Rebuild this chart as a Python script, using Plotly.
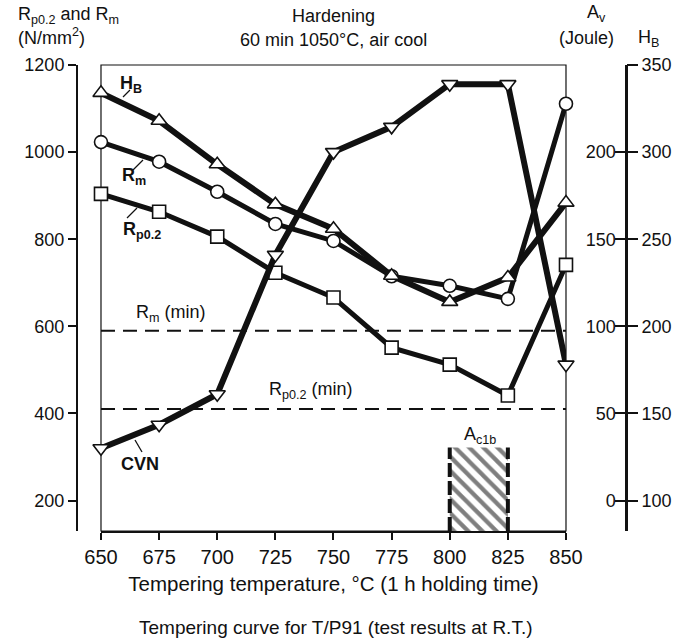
import plotly.graph_objects as go

# Tempering temperatures (°C)
temp = [650, 675, 700, 725, 750, 775, 800, 825, 850]

# Tensile strength Rm and yield strength Rp0.2 (N/mm²)
rm = [1023, 978, 909, 835, 796, 715, 693, 663, 1111]
rp02 = [904, 863, 806, 723, 666, 551, 512, 441, 741]

# Brinell hardness HB
hb = [334, 318, 293, 270, 256, 229, 214, 228, 271]

# Charpy impact energy Av (Joule)
cvn = [30, 43.5, 61, 141, 200, 214.5, 239, 239, 78]

# Minimum requirements (N/mm²)
rm_min = 590
rp02_min = 410

# Ac1b transformation band (°C) and its drawn height (N/mm² scale)
ac1b_band = [800, 825]
ac1b_top = 322

# Axis ticks
x_ticks = [650, 675, 700, 725, 750, 775, 800, 825, 850]
left_ticks = [200, 400, 600, 800, 1000, 1200]
av_ticks = [0, 50, 100, 150, 200, 250]
hb_ticks = [100, 150, 200, 250, 300, 350]

left_range = [130, 1200]
av_range = [-17.5, 250]
hb_range = [82.5, 350]

FONT = "Liberation Sans"
BLACK = "#111111"

fig = go.Figure()

marker_line = dict(color=BLACK, width=1.6)

# Ac1b hatched band
band_y_bottom = left_range[0]
fig.add_trace(go.Scatter(
    x=[ac1b_band[0], ac1b_band[0], ac1b_band[1], ac1b_band[1], ac1b_band[0]],
    y=[band_y_bottom, ac1b_top, ac1b_top, band_y_bottom, band_y_bottom],
    fill="toself", mode="lines", line=dict(width=0),
    fillcolor="white",
    fillpattern=dict(shape="\\", fgcolor="#000000", bgcolor="white", size=10, solidity=0.42),
    hoverinfo="skip", showlegend=False, yaxis="y",
))
for xb in ac1b_band:
    fig.add_trace(go.Scatter(
        x=[xb, xb], y=[band_y_bottom, ac1b_top], mode="lines",
        line=dict(color=BLACK, width=4, dash="14px,4px"),
        hoverinfo="skip", showlegend=False, yaxis="y",
    ))

# Minimum strength lines
for v in (rm_min, rp02_min):
    fig.add_trace(go.Scatter(
        x=[temp[0], temp[-1]], y=[v, v], mode="lines",
        line=dict(color=BLACK, width=2, dash="14px,8px"),
        hoverinfo="skip", showlegend=False, yaxis="y",
    ))

# Charpy impact energy (right, Av axis)
fig.add_trace(go.Scatter(
    x=temp, y=cvn, mode="lines+markers", name="CVN", yaxis="y2",
    line=dict(color=BLACK, width=6), cliponaxis=False,
    marker=dict(symbol="triangle-down", size=14, color="white", line=marker_line),
    showlegend=False,
))

# Hardness (right, HB axis)
fig.add_trace(go.Scatter(
    x=temp, y=hb, mode="lines+markers", name="HB", yaxis="y3",
    line=dict(color=BLACK, width=6), cliponaxis=False,
    marker=dict(symbol="triangle-up", size=14, color="white", line=marker_line),
    showlegend=False,
))

# Tensile and yield strength (left axis)
fig.add_trace(go.Scatter(
    x=temp, y=rm, mode="lines+markers", name="Rm", yaxis="y",
    line=dict(color=BLACK, width=5), cliponaxis=False,
    marker=dict(symbol="circle", size=13, color="white", line=marker_line),
    showlegend=False,
))
fig.add_trace(go.Scatter(
    x=temp, y=rp02, mode="lines+markers", name="Rp0.2", yaxis="y",
    line=dict(color=BLACK, width=5), cliponaxis=False,
    marker=dict(symbol="square", size=13, color="white", line=marker_line),
    showlegend=False,
))

tick_font = dict(family=FONT, size=18, color=BLACK)

fig.update_layout(
    width=688, height=643,
    margin=dict(l=77, r=62, t=65, b=112, autoexpand=False),
    paper_bgcolor="white", plot_bgcolor="white",
    showlegend=False,
    xaxis=dict(
        domain=[0.0437, 0.8907], range=[650, 850],
        tickvals=x_ticks, ticktext=[str(t) for t in x_ticks],
        ticks="outside", ticklen=7, tickwidth=1.5, tickcolor=BLACK,
        showline=True, linecolor=BLACK, linewidth=1.5,
        showgrid=False, zeroline=False,
        tickfont=dict(family=FONT, size=20, color=BLACK),
        title=dict(text="Tempering temperature, °C (1 h holding time)",
                   font=dict(family=FONT, size=20.5, color=BLACK), standoff=10),
    ),
    yaxis=dict(
        range=left_range, anchor="free", position=0, side="left",
        tickvals=left_ticks, ticks="outside", ticklen=8, tickwidth=1.5,
        tickcolor=BLACK, showline=True, linecolor=BLACK, linewidth=2,
        showgrid=False, zeroline=False, tickfont=tick_font,
    ),
    yaxis2=dict(
        range=av_range, anchor="free", position=1, side="right", overlaying="y",
        tickvals=av_ticks, ticks="inside", ticklabelposition="inside",
        ticklen=10, tickwidth=1.5, tickcolor=BLACK,
        showline=True, linecolor=BLACK, linewidth=2.5,
        showgrid=False, zeroline=False, tickfont=tick_font,
    ),
    yaxis3=dict(
        range=hb_range, anchor="free", position=1, side="right", overlaying="y",
        tickvals=hb_ticks, ticks="outside", ticklen=11, tickwidth=1.5,
        tickcolor=BLACK, showline=False,
        showgrid=False, zeroline=False, tickfont=tick_font,
    ),
)

# Plot frame
fig.add_shape(type="rect", xref="x domain", yref="y domain", x0=0, x1=1, y0=0, y1=1,
              line=dict(color=BLACK, width=1.2), layer="below")

def note(text, x, y, size=18, bold=False, xanchor="center",
         xref="paper", yref="paper"):
    if bold:
        text = "<b>" + text + "</b>"
    fig.add_annotation(text=text, x=x, y=y, xref=xref, yref=yref, showarrow=False,
                       xanchor=xanchor, yanchor="middle",
                       font=dict(family=FONT, size=size, color=BLACK))

def px(xp):
    return (xp - 77) / 549.0

def py(yp):
    return (643 - 112 - yp) / 466.0

# Axis headings
note("R<sub>p0.2</sub> and R<sub>m</sub>", px(16), py(15), size=18, xanchor="left")
note("(N/mm<sup>2</sup>)", px(16), py(37), size=18, xanchor="left")
note("Hardening", px(333), py(16), size=18)
note("60 min 1050°C, air cool", px(333), py(40), size=18)
note("A<sub>v</sub>", px(596), py(14), size=18)
note("(Joule)", px(586), py(38), size=18)
note("H<sub>B</sub>", px(648), py(38), size=18)

# Curve labels with leader lines
note("H<sub>B</sub>", px(118), py(85), size=18, bold=True, xanchor="left")
note("R<sub>m</sub>", px(120), py(176), size=18, bold=True, xanchor="left")
note("R<sub>p0.2</sub>", px(121), py(230), size=18, bold=True, xanchor="left")
note("CVN", px(119), py(464), size=18, bold=True, xanchor="left")
note("R<sub>m</sub> (min)", px(134), py(313), size=18, xanchor="left")
note("R<sub>p0.2</sub> (min)", px(267), py(391), size=18, xanchor="left")
note("A<sub>c1b</sub>", px(480), py(435), size=18)

for (xa, ya, xb, yb) in [(130, 90, 123, 97), (143, 160, 133, 170),
                         (137, 208, 127, 218), (135, 440, 142, 452)]:
    fig.add_shape(type="line", xref="paper", yref="paper",
                  x0=px(xa), y0=py(ya), x1=px(xb), y1=py(yb),
                  line=dict(color=BLACK, width=1.3))

# Caption
note("Tempering curve for T/P91 (test results at R.T.)", px(336), py(628), size=19)

fig.write_html("out.html")
